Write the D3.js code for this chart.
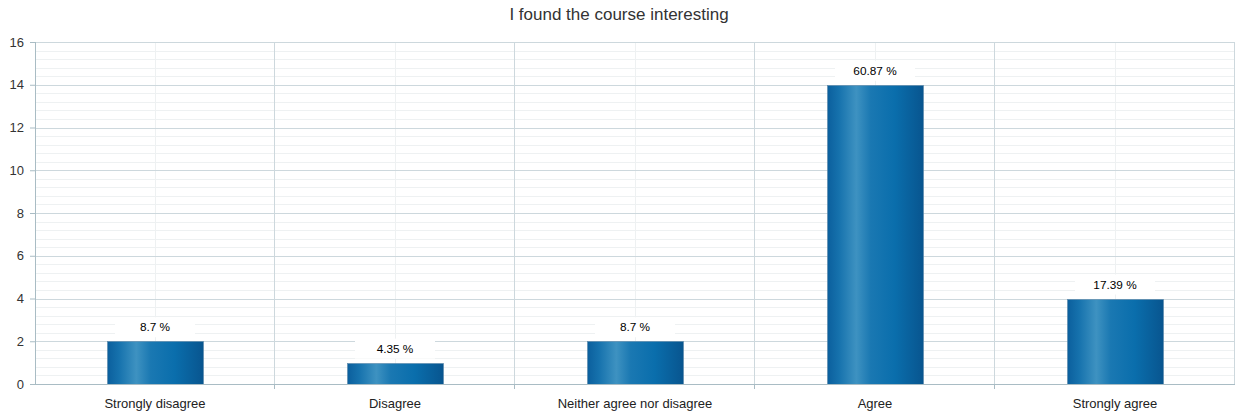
<!DOCTYPE html>
<html><head><meta charset="utf-8">
<script src="https://cdn.jsdelivr.net/npm/d3@7/dist/d3.min.js"></script>
<style>
html,body{margin:0;padding:0;background:#fff;}
svg{display:block;font-family:Arial,"Liberation Sans",sans-serif;}
</style></head>
<body><svg id="chart" width="1238" height="416"></svg>
<script>
const title = "I found the course interesting";
const categories = ["Strongly disagree","Disagree","Neither agree nor disagree","Agree","Strongly agree"];
const values = [2,1,2,14,4];
const percentLabels = ["8.7 %","4.35 %","8.7 %","60.87 %","17.39 %"];
const yTicks = [0,2,4,6,8,10,12,14,16];

const svg = d3.select("#chart");
const W = 1238, H = 416;
const m = {left:35, right:3, top:42, bottom:32};
const iw = W - m.left - m.right, ih = H - m.top - m.bottom;

const defs = svg.append("defs");
const grad = defs.append("linearGradient").attr("id","barGrad").attr("x1","0").attr("x2","1").attr("y1","0").attr("y2","0");
[[0,"#0b5f9d"],[0.12,"#1672ad"],[0.3,"#3e92c1"],[0.45,"#1a78b2"],[0.7,"#0a6eac"],[1,"#08558f"]].forEach(([o,c])=>grad.append("stop").attr("offset",o).attr("stop-color",c));

const g = svg.append("g").attr("transform",`translate(${m.left},${m.top})`);
const x = d3.scaleBand().domain(categories).range([0,iw]).paddingInner(0).paddingOuter(0);
const y = d3.scaleLinear().domain([0,16]).range([ih,0]);

// minor gridlines
const minor = d3.range(0,16.0001,0.4).filter(v=>Math.abs(v/2-Math.round(v/2))>1e-6);
g.append("g").selectAll("line").data(minor).join("line")
  .attr("x1",0).attr("x2",iw).attr("y1",d=>Math.round(y(d))+0.5).attr("y2",d=>Math.round(y(d))+0.5)
  .attr("stroke","#eef1f2").attr("stroke-width",1);
// center verticals
g.append("g").selectAll("line").data(categories).join("line")
  .attr("x1",d=>Math.round(x(d)+x.bandwidth()/2)+0.5).attr("x2",d=>Math.round(x(d)+x.bandwidth()/2)+0.5)
  .attr("y1",0).attr("y2",ih).attr("stroke","#eef1f2");
// major gridlines
g.append("g").selectAll("line").data(yTicks.filter(d=>d>0)).join("line")
  .attr("x1",0).attr("x2",iw).attr("y1",d=>Math.round(y(d))+0.5).attr("y2",d=>Math.round(y(d))+0.5)
  .attr("stroke","#cdd8dd");
// category boundary verticals
const bounds = categories.map(c=>x(c)).concat([iw]).slice(1);
g.append("g").selectAll("line").data(bounds).join("line")
  .attr("x1",d=>Math.round(d)-0.5).attr("x2",d=>Math.round(d)-0.5)
  .attr("y1",0).attr("y2",ih).attr("stroke","#cdd8dd");

// bars
const bw = x.bandwidth()*0.4;
g.append("g").selectAll("rect").data(values).join("rect")
  .attr("x",(d,i)=>Math.round(x(categories[i])+(x.bandwidth()-bw)/2)+0.5)
  .attr("y",d=>Math.round(y(d))+0.5)
  .attr("width",bw).attr("height",d=>ih-Math.round(y(d)))
  .attr("fill","url(#barGrad)").attr("stroke","#5b87a8").attr("stroke-width",0.6);

// labels
const lg = g.append("g");
values.forEach((d,i)=>{
  const cx = x(categories[i])+x.bandwidth()/2;
  const ty = y(d)-14;
  lg.append("rect").attr("x",cx-bw/2+8).attr("y",ty-10).attr("width",bw-16).attr("height",20).attr("fill","#fff");
  lg.append("text").attr("x",cx).attr("y",ty).attr("dy","0.35em").attr("text-anchor","middle")
    .attr("font-size",11.8).attr("fill","#000").text(percentLabels[i]);
});

// axes
const axCol = "#a9bcc4";
const yAxis = g.append("g").call(d3.axisLeft(y).tickValues(yTicks).tickSize(5).tickPadding(6).tickFormat(d3.format("d")));
yAxis.select(".domain").attr("stroke",axCol).attr("d",`M0.5,0V${ih}`);
yAxis.selectAll(".tick line").attr("stroke",axCol);
yAxis.selectAll("text").attr("font-size",13).attr("fill","#333").attr("font-family","Arial,'Liberation Sans',sans-serif");

const xAxisG = g.append("g").attr("transform",`translate(0,${ih})`);
xAxisG.append("line").attr("x1",0).attr("x2",iw).attr("y1",0.5).attr("y2",0.5).attr("stroke",axCol);
xAxisG.selectAll(".tk").data(bounds.slice(0,-1)).join("line").attr("class","tk")
  .attr("x1",d=>Math.round(d)-0.5).attr("x2",d=>Math.round(d)-0.5).attr("y1",0).attr("y2",5).attr("stroke",axCol);
xAxisG.selectAll("text").data(categories).join("text")
  .attr("x",d=>x(d)+x.bandwidth()/2).attr("y",19).attr("dy","0.35em").attr("text-anchor","middle")
  .attr("font-size",13).attr("fill","#222").text(d=>d);

// right border
g.append("line").attr("x1",iw-0.5).attr("x2",iw-0.5).attr("y1",0).attr("y2",ih).attr("stroke","#cdd8dd");

svg.append("text").attr("x",W/2).attr("y",14).attr("dy","0.35em").attr("text-anchor","middle")
  .attr("font-size",17).attr("fill","#333").text(title);
</script></body></html>
